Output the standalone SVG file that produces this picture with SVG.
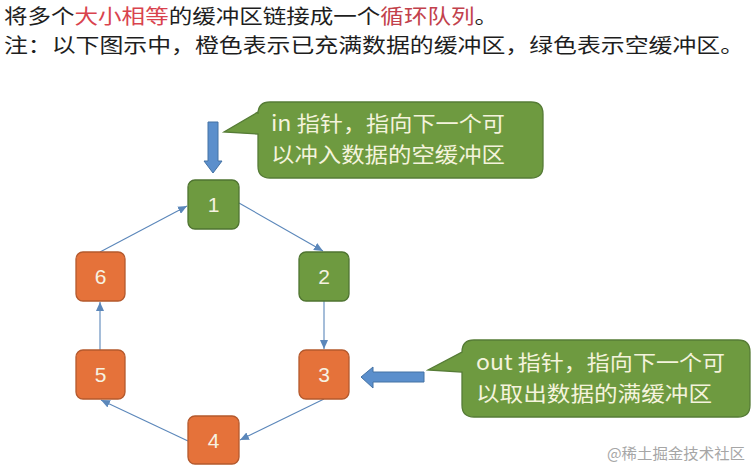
<svg xmlns="http://www.w3.org/2000/svg" width="753" height="468" viewBox="0 0 753 468">
<style>
.t{font-family:"Noto Sans CJK SC","Liberation Sans",sans-serif;}
.title{font-size:20px;fill:#1e1e1e;}
.red1{fill:#d9434e;}
.red2{fill:#c2414c;}
.call{font-size:21px;fill:#f4f3dc;}
.nd rect{stroke-width:1.3;}
.g rect{fill:#6e9a40;stroke:#4f7431;}
.o rect{fill:#e5723a;stroke:#b4592d;}
.lbl{font-family:"Liberation Sans","Noto Sans",sans-serif;font-size:21px;fill:#f6f2e2;text-anchor:middle;}
.conn{stroke:#5b87ba;stroke-width:1.1;fill:none;marker-end:url(#ah);}
.blk{fill:#5b8fcc;stroke:#4472a4;stroke-width:1;}
.bub{fill:#6e9a40;stroke:#567c36;stroke-width:1.3;}
</style>
<defs>
<marker id="ah" markerUnits="userSpaceOnUse" markerWidth="10" markerHeight="8" refX="9" refY="4" orient="auto">
<path d="M0,0 L9,4 L0,8 Z" fill="#5b87ba"/>
</marker>
</defs>
<rect width="753" height="468" fill="#ffffff"/>
<text class="t title" x="4" y="24" textLength="494" lengthAdjust="spacingAndGlyphs">将多个<tspan class="red1">大小相等</tspan>的缓冲区链接成一个<tspan class="red2">循环队列</tspan>。</text>
<text class="t title" x="4" y="53" textLength="740" lengthAdjust="spacingAndGlyphs">注：以下图示中，橙色表示已充满数据的缓冲区，绿色表示空缓冲区。</text>

<g id="connectors">
<line class="conn" x1="239" y1="203" x2="323" y2="251"/>
<line class="conn" x1="324" y1="301" x2="324" y2="349"/>
<line class="conn" x1="324" y1="399" x2="240" y2="440"/>
<line class="conn" x1="188" y1="441" x2="101" y2="400"/>
<line class="conn" x1="100" y1="350" x2="100" y2="302"/>
<line class="conn" x1="100" y1="252" x2="187" y2="206"/>
</g>

<g id="node1" class="nd g"><rect x="188" y="180" width="51" height="49" rx="7"/><text class="lbl" x="213.5" y="212">1</text></g>
<g id="node2" class="nd g"><rect x="299" y="252" width="50" height="49" rx="7"/><text class="lbl" x="324" y="284">2</text></g>
<g id="node3" class="nd o"><rect x="299" y="350" width="50" height="49" rx="7"/><text class="lbl" x="324" y="382">3</text></g>
<g id="node4" class="nd o"><rect x="188" y="416" width="51" height="48" rx="7"/><text class="lbl" x="213.5" y="448">4</text></g>
<g id="node5" class="nd o"><rect x="76" y="350" width="49" height="49" rx="7"/><text class="lbl" x="100.5" y="382">5</text></g>
<g id="node6" class="nd o"><rect x="76" y="252" width="49" height="49" rx="7"/><text class="lbl" x="100.5" y="284">6</text></g>

<g id="in-arrow">
<path class="blk" d="M208,122 H218 V161 H222 L213,173 L204,161 H208 Z"/>
</g>
<g id="in-callout">
<path class="bub" d="M270,102 H531 Q543,102 543,114 V166 Q543,178 531,178 H270 Q258,178 258,166 V134 L224,132 L258,112 V114 Q258,102 270,102 Z"/>
<text class="t call" x="271" y="131" textLength="234" lengthAdjust="spacingAndGlyphs">in 指针，指向下一个可</text>
<text class="t call" x="271" y="162" textLength="234" lengthAdjust="spacingAndGlyphs">以冲入数据的空缓冲区</text>
</g>

<g id="out-arrow">
<path class="blk" d="M424,372 V382 H373 V388 L361,377 L373,367 V372 Z"/>
</g>
<g id="out-callout">
<path class="bub" d="M474,340 H738 Q750,340 750,352 V405 Q750,417 738,417 H474 Q462,417 462,405 V372 L428,370 L462,352 Q462,340 474,340 Z"/>
<text class="t call" x="476" y="370" textLength="249" lengthAdjust="spacingAndGlyphs">out 指针，指向下一个可</text>
<text class="t call" x="476" y="401" textLength="236" lengthAdjust="spacingAndGlyphs">以取出数据的满缓冲区</text>
</g>

<text class="t" x="607" y="459" font-size="15" fill="#a6a6a6" textLength="138" lengthAdjust="spacingAndGlyphs">@稀土掘金技术社区</text>
</svg>
